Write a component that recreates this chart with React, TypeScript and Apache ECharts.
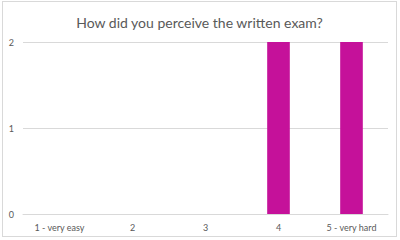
import React, { useEffect, useRef } from "react";
import * as echarts from "echarts";

const title = "How did you perceive the written exam?";
const categories = ["1 - very easy", "2", "3", "4", "5 - very hard"];
const values = [0, 0, 0, 2, 2];
const yTicks = { min: 0, max: 2, interval: 1 };

export default function App() {
  const ref = useRef<HTMLDivElement>(null);
  useEffect(() => {
    if (!ref.current) return;
    const chart = echarts.init(ref.current, null, { renderer: "svg" });
    chart.setOption({
      animation: false,
      backgroundColor: "#ffffff",
      title: {
        text: title,
        left: "center",
        top: 8,
        textStyle: { fontFamily: "Lato", fontSize: 14, fontWeight: "normal", color: "#595959" },
      },
      grid: { left: 20, right: 8, top: 40, bottom: 22 },
      xAxis: {
        type: "category",
        data: categories,
        axisLine: { lineStyle: { color: "#d9d9d9" } },
        axisTick: { show: false },
        axisLabel: { fontFamily: "Lato", fontSize: 9, color: "#595959", margin: 9 },
      },
      yAxis: {
        type: "value",
        min: yTicks.min,
        max: yTicks.max,
        interval: yTicks.interval,
        axisLine: { show: false },
        axisTick: { show: false },
        splitLine: { lineStyle: { color: "#d9d9d9" } },
        axisLabel: { fontFamily: "Lato", fontSize: 9, color: "#595959", margin: 9 },
      },
      series: [
        {
          type: "bar",
          data: values,
          barWidth: "31%",
          itemStyle: { color: "#c5119a" },
        },
      ],
    });
    return () => chart.dispose();
  }, []);
  return (
    <div
      ref={ref}
      style={{
        position: "absolute",
        left: 2,
        top: 1,
        width: 395,
        height: 236,
        border: "1px solid #d9d9d9",
        boxSizing: "border-box",
      }}
    />
  );
}
